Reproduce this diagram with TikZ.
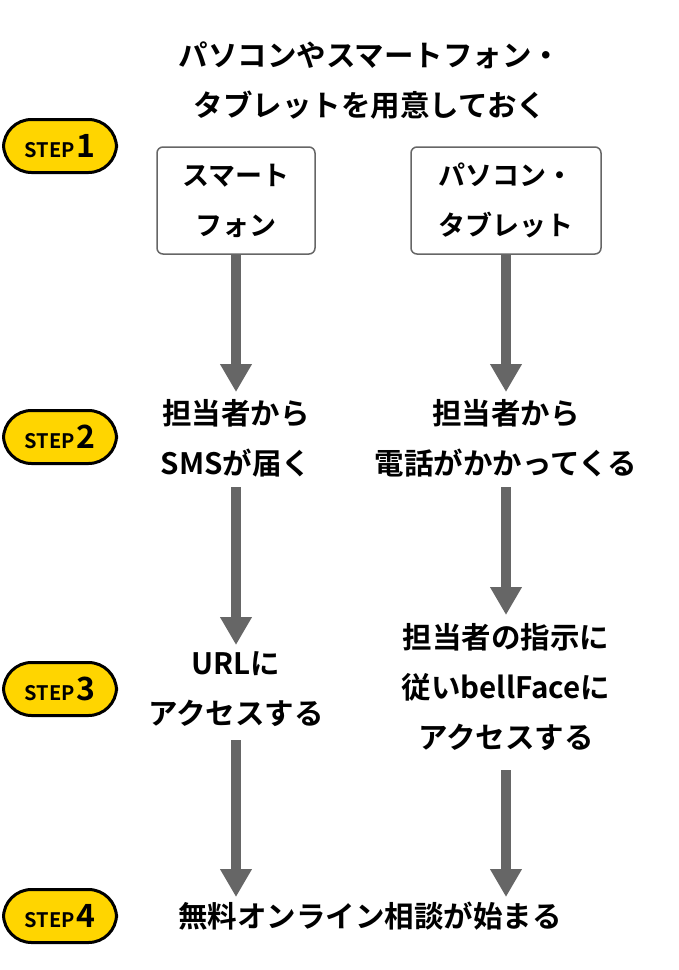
\documentclass[tikz,border=0pt]{standalone}
\usepackage{fontspec}
\setmainfont{Noto Sans CJK JP}[BoldFont={Noto Sans CJK JP Bold}]
\usetikzlibrary{arrows.meta}
\definecolor{stepyellow}{HTML}{FFD500}
\definecolor{flowgray}{HTML}{666666}
\tikzset{
  badge/.style={draw=black, line width=3pt, fill=stepyellow, rounded corners=28pt,
    minimum width=113pt, minimum height=53pt, inner sep=0pt, font=\bfseries},
  devbox/.style={draw=flowgray, line width=1.5pt, rounded corners=6pt, fill=white,
    minimum height=107pt, align=center, font=\fontsize{27}{50}\selectfont\bfseries},
  label/.style={align=center, font=\fontsize{29.5}{50}\selectfont\bfseries, inner sep=0pt},
  flow/.style={draw=flowgray, line width=10pt, -{Triangle[length=28pt,width=30pt]}, shorten >=0pt}
}
\newcommand{\stepname}[1]{{\fontsize{20}{20}\selectfont STEP}\,{\fontsize{32}{32}\selectfont #1}}
\begin{document}
\begin{tikzpicture}[x=1pt,y=-1pt]
\useasboundingbox (0,0) rectangle (678,970);
% badges
\node[badge] (s1) at (60,146) {\stepname{1}};
\node[badge] (s2) at (60,437) {\stepname{2}};
\node[badge] (s3) at (60,689) {\stepname{3}};
\node[badge] (s4) at (60,916) {\stepname{4}};
% title
\node[label] (title) at (370,81) {パソコンやスマートフォン・\\タブレットを用意しておく};
% boxes
\node[devbox, minimum width=158pt] (sp) at (236,200.5) {スマート\\フォン};
\node[devbox, minimum width=190pt] (pc) at (506,200.5) {パソコン・\\タブレット};
% step 2
\node[label] (l2) at (236,438) {担当者から\\SMSが届く};
\node[label] (r2) at (506,438) {担当者から\\電話がかかってくる};
% step 3
\node[label] (l3) at (236,689) {URLに\\アクセスする};
\node[label] (r3) at (506,687) {担当者の指示に\\従いbellFaceに\\アクセスする};
% step 4
\node[label] (fin) at (370,916) {無料オンライン相談が始まる};
% arrow end coordinates
\coordinate (a1) at (236,392);
\coordinate (b1) at (506,392);
\coordinate (a2s) at (236,487);
\coordinate (a2) at (236,645);
\coordinate (b2s) at (506,487);
\coordinate (b2) at (506,615);
\coordinate (a3s) at (236,740);
\coordinate (a3) at (236,897);
\coordinate (b3s) at (506,770);
\coordinate (b3) at (506,897);
\draw[flow] (sp.south) -- (a1);
\draw[flow] (pc.south) -- (b1);
\draw[flow] (a2s) -- (a2);
\draw[flow] (b2s) -- (b2);
\draw[flow] (a3s) -- (a3);
\draw[flow] (b3s) -- (b3);
\end{tikzpicture}
\end{document}
